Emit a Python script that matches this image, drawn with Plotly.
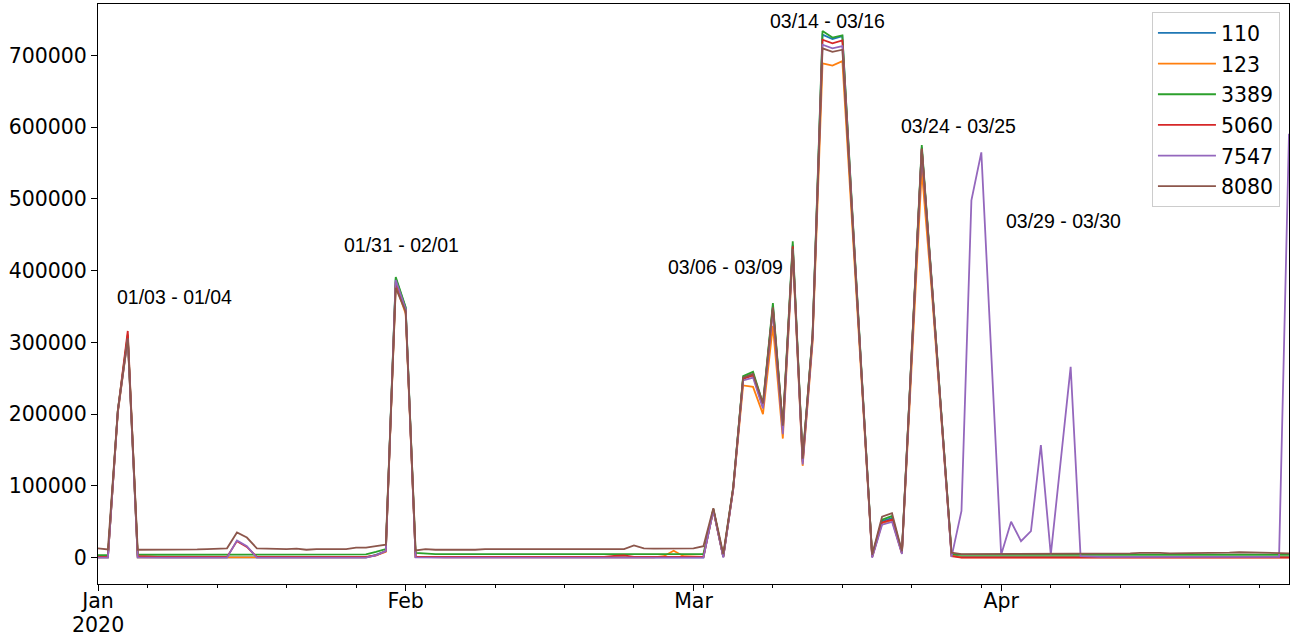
import pandas as pd
import plotly.graph_objects as go

# ---------------- data (values in thousands) ----------------
dates = pd.date_range("2020-01-01", "2020-04-30", freq="D")

port_110 = [0.5, 0.5, 204, 308, 0.5, 0.5, 0.5, 0.5, 0.5, 0.5,
            0.5, 0.5, 0.5, 0.5, 0.5, 0.5, 0.5, 0.5, 0.5, 0.5,
            0.5, 0.5, 0.5, 0.5, 0.5, 0.5, 0.5, 0.5, 4, 9,
            389, 348, 1, 1, 0.5, 0.5, 0.5, 0.5, 0.5, 0.5,
            0.5, 0.5, 0.5, 0.5, 0.5, 0.5, 0.5, 0.5, 0.5, 0.5,
            0.5, 0.5, 0.5, 0.5, 0.5, 0.5, 0.5, 0.5, 0.5, 0.5,
            0.5, 0.5, 67, 1, 97, 251, 256, 212, 351, 180,
            436, 135, 310, 729, 723, 727, 480, 240, 2, 51,
            55, 7, 290, 572, 385, 195, 4, 1, 1, 1,
            1, 1, 1, 1, 1, 1, 1, 1, 1, 1,
            1, 1, 1, 1, 1, 1, 1, 1, 1, 1,
            1, 1, 1, 1, 1, 1, 1, 1, 1, 1,
            1]

port_123 = [0.5, 0.5, 202, 305, 0.5, 0.3, 0.3, 0.3, 0.3, 0.3,
            0.3, 0.3, 0.3, 0.3, 0.3, 0.3, 0.3, 0.3, 0.3, 0.3,
            0.3, 0.3, 0.3, 0.3, 0.3, 0.3, 0.3, 0.3, 3, 8,
            380, 340, 1, 0.5, 0.5, 0.5, 0.5, 0.5, 0.5, 0.5,
            0.5, 0.5, 0.5, 0.5, 0.5, 0.5, 0.5, 0.5, 0.5, 0.5,
            0.5, 0.5, 0.5, 0.5, 0.5, 0.5, 0.5, 2, 9.5, 2,
            1, 1, 66, 1, 95, 240, 238, 200, 323, 166,
            425, 128, 300, 689, 686, 692, 462, 232, 1, 48,
            52, 6, 280, 540, 372, 188, 3, 0.5, 0.5, 0.5,
            0.5, 0.5, 0.5, 0.5, 0.5, 0.5, 0.5, 0.5, 0.5, 0.5,
            0.5, 0.5, 0.5, 0.5, 0.5, 0.5, 0.5, 0.5, 0.5, 0.5,
            0.5, 0.5, 0.5, 0.5, 0.5, 0.5, 0.5, 0.5, 0.5, 0.5,
            0.5]

port_3389 = [3.5, 3.5, 206, 311, 4, 4, 4, 4, 4, 4,
             4, 4, 4, 4, 4, 4, 4, 4.5, 4.5, 4.5,
             4.5, 4.5, 4.5, 4.5, 4.5, 4.5, 4.5, 4.5, 8, 12,
             391, 349, 6.5, 5.5, 5, 5, 5, 5, 5, 5,
             5, 5, 5, 5, 5, 5, 5, 5, 5, 5,
             5, 5, 5, 5, 5, 5, 5, 5, 5, 5,
             5, 5, 68, 2, 98, 253, 259, 215, 355, 183,
             441, 137, 312, 734, 725, 728, 483, 242, 3, 53,
             58, 8, 292, 575, 387, 197, 5, 4, 4, 4,
             4, 4, 4, 4, 4, 4, 4, 4, 3.5, 3.5,
             4, 4, 4.5, 4.5, 4, 4, 4, 3.5, 3.5, 4,
             4, 4.5, 4.5, 4, 4, 4, 4, 3.5, 3.5, 4,
             4]

port_5060 = [1, 1, 205, 316, 2, 1, 1, 1, 1, 1,
             1, 1, 1, 1, 23, 15, 1, 1, 1, 1,
             1, 1, 1, 1, 1, 1, 1, 1, 3, 9,
             385, 345, 1, 1, 1, 1, 1, 1, 1, 1,
             1, 1, 1, 1, 1, 1, 1, 1, 1, 1,
             1, 1, 2.5, 3, 1, 1, 1, 1, 1, 1,
             1, 1, 67, 1, 96, 249, 254, 210, 347, 178,
             434, 133, 308, 722, 717, 721, 478, 238, 1, 49,
             53, 6, 288, 570, 384, 194, 2, 0, 0, 0,
             0, 0, 0, 0, 0, 0, 0, 0, 0, 0,
             0, 0, 0, 0, 0, 0, 0, 0, 0, 0,
             0, 0, 0, 0, 0, 0, 0, 0, 0, 0,
             0]

port_7547 = [0, 0, 204, 305, 0.5, 0, 0, 0, 0, 0,
             0, 0, 0, 0, 24, 16, 0, 0, 0, 0,
             0, 0, 0, 0, 0, 0, 0, 0, 3, 9,
             387, 346, 0.5, 0, 0, 0, 0, 0, 0, 0,
             0, 0, 0, 0, 0, 0, 0, 0, 0, 0,
             0, 0, 0, 0, 0, 0, 0, 0, 0, 0,
             0, 0, 66, 0, 95, 247, 251, 208, 345, 172,
             430, 130, 306, 715, 710, 713, 476, 237, 0, 46,
             50, 5, 286, 566, 382, 192, 1, 65, 498, 565,
             285, 4, 50, 23, 37, 157, 4, 135, 266, 2,
             1, 1, 1, 1, 1, 1, 1, 1, 1, 1,
             1, 1, 1, 1, 1, 1, 1, 1, 1, 1,
             591]

port_8080 = [13, 11.5, 205, 306, 11, 11, 11, 10.5, 11, 11,
             11.5, 12, 12.5, 13, 35, 28, 13, 12.5, 12.5, 12,
             12.5, 11, 12, 12, 11.5, 12, 14, 14, 16, 18,
             376, 343, 10, 12, 11, 11, 10.5, 11, 11, 12,
             12, 11.5, 12, 12, 11.5, 12, 11.5, 11, 11, 11.5,
             11, 11.5, 11, 12, 17, 13, 12.5, 12.5, 12.5, 12,
             13, 16, 69, 5, 98, 251, 256, 215, 349, 184,
             431, 138, 310, 710, 705, 708, 478, 240, 4, 57,
             62, 9, 290, 570, 382, 194, 7, 5, 5, 5.5,
             5.5, 6, 6, 5.5, 5.5, 6, 6, 5.5, 6, 6,
             6, 5.5, 5.5, 6, 6, 6.5, 7, 6.5, 6, 6,
             6.5, 6, 6, 6.5, 7, 7.5, 7, 7, 6.5, 6.5,
             6]

series_names = ["110", "123", "3389", "5060", "7547", "8080"]
series_values = [port_110, port_123, port_3389, port_5060, port_7547, port_8080]
colors = ["#1f77b4", "#ff7f0e", "#2ca02c", "#d62728", "#9467bd", "#8c564b"]

label_texts = ["01/03 - 01/04", "01/31 - 02/01", "03/06 - 03/09",
               "03/14 - 03/16", "03/24 - 03/25", "03/29 - 03/30"]
label_dates = ["2020-01-08 18:00", "2020-01-31 14:00", "2020-03-04 05:00",
               "2020-03-14 13:00", "2020-03-27 18:00", "2020-04-07 07:00"]
label_values = [363000, 435600, 405000, 748700, 601000, 469000]

month_ticks = ["2020-01-01", "2020-02-01", "2020-03-01", "2020-04-01"]
month_labels = ["Jan", "Feb", "Mar", "Apr"]
year_label = "2020"
y_ticks = [0, 100000, 200000, 300000, 400000, 500000, 600000, 700000]

# ---------------- figure ----------------
fig = go.Figure()
for name, vals, col in zip(series_names, series_values, colors):
    fig.add_trace(go.Scatter(
        x=dates, y=[v * 1000 for v in vals], mode="lines", name=name,
        legendgroup=name, line=dict(color=col, width=1.8),
    ))

for txt, d, v in zip(label_texts, label_dates, label_values):
    fig.add_annotation(x=d, y=v, xref="x", yref="y", text=txt, showarrow=False,
                       font=dict(family="Liberation Sans, Arial", size=19.5, color="black"))

tick_font = dict(family="DejaVu Sans", size=20.5, color="black")

# year line under the first month label
fig.add_annotation(x=month_ticks[0], y=-0.069, xref="x", yref="paper", text=year_label,
                   showarrow=False, yanchor="middle", font=tick_font, borderpad=0,
                   height=19, valign="middle")

fig.update_layout(
    width=1294, height=635,
    margin=dict(l=98, r=5, t=4, b=51),
    plot_bgcolor="white", paper_bgcolor="white",
    showlegend=True,
    legend=dict(x=0.9924, y=0.986, xanchor="right", yanchor="top",
                bgcolor="rgba(255,255,255,0.85)", bordercolor="#cccccc", borderwidth=1,
                font=tick_font, traceorder="grouped", tracegroupgap=1,
                itemwidth=58),
    xaxis=dict(
        range=["2020-01-01", "2020-04-30"], tickvals=month_ticks, ticktext=month_labels,
        automargin=False, ticklabelstandoff=-8,
        showgrid=False, zeroline=False, showline=True, linecolor="black", linewidth=1,
        mirror=True, ticks="outside", ticklen=6, tickcolor="black", tickfont=tick_font,
        minor=dict(ticks="outside", ticklen=3, tickcolor="black", dtick=7 * 86400000,
                   tick0="2020-01-06", showgrid=False),
    ),
    yaxis=dict(
        range=[-36750, 771750], tickvals=y_ticks, ticktext=[str(v) for v in y_ticks],
        automargin=False,
        showgrid=False, zeroline=False, showline=True, linecolor="black", linewidth=1,
        mirror=True, ticks="outside", ticklen=6, tickcolor="black", tickfont=tick_font,
    ),
)

fig.write_html("out.html")
